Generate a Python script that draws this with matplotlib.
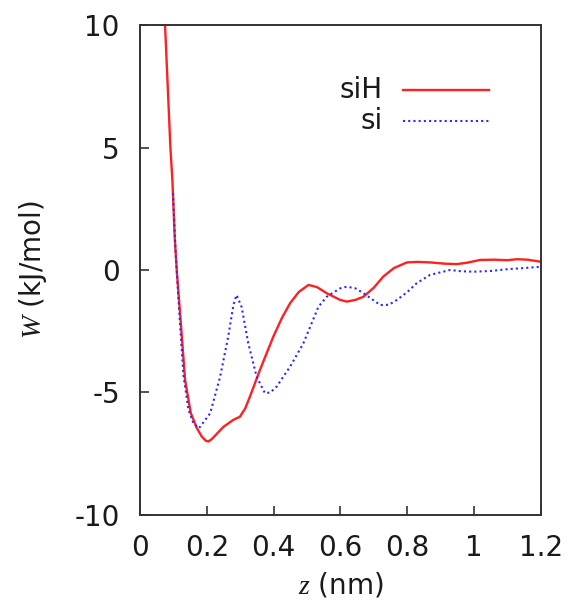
import matplotlib
matplotlib.use("Agg")
import matplotlib.pyplot as plt

plt.rcParams["font.family"] = ["DejaVu Sans"]
plt.rcParams["mathtext.fontset"] = "custom"
plt.rcParams["mathtext.it"] = "Liberation Serif:italic"
plt.rcParams["mathtext.rm"] = "Liberation Serif"

# Potential of mean force W(z)
z_siH = [0.075, 0.083, 0.091, 0.097, 0.104, 0.111, 0.12, 0.135, 0.152, 0.17, 0.185, 0.197, 0.205,
         0.215, 0.25, 0.279, 0.299, 0.315, 0.329, 0.359, 0.399, 0.425, 0.449, 0.475,
         0.504, 0.53, 0.559, 0.599, 0.619, 0.645, 0.669, 0.7, 0.728, 0.76,
         0.799, 0.83, 0.868, 0.91, 0.948, 0.98, 1.018, 1.06, 1.1, 1.128, 1.16, 1.198]
W_siH = [10.0, 7.5, 5.0, 3.67, 1.3, -0.2, -1.77, -4.49, -5.84, -6.45, -6.8, -6.97, -7.0,
         -6.9, -6.4, -6.12, -5.99, -5.65, -5.17, -4.08, -2.72, -1.95, -1.36, -0.9,
         -0.61, -0.7, -0.95, -1.22, -1.29, -1.22, -1.09, -0.72, -0.27, 0.08,
         0.31, 0.33, 0.31, 0.26, 0.24, 0.3, 0.41, 0.42, 0.4, 0.44, 0.42, 0.34]

z_si = [0.099, 0.106, 0.117, 0.13, 0.145, 0.16, 0.175, 0.18, 0.21, 0.24, 0.264, 0.28,
        0.289, 0.304, 0.324, 0.349, 0.374, 0.39, 0.409, 0.449, 0.489, 0.534,
        0.559, 0.599, 0.619, 0.645, 0.669, 0.695, 0.719, 0.745,
        0.769, 0.8, 0.828, 0.868, 0.928, 0.96, 0.998, 1.05, 1.098, 1.15, 1.198]
W_si = [3.14, 0.9, -1.6, -4.3, -5.7, -6.25, -6.46, -6.4, -5.85, -4.35, -2.72, -1.4,
        -1.02, -1.5, -2.99, -4.35, -5.03, -5.0, -4.76, -3.95, -2.99, -1.5,
        -1.09, -0.75, -0.68, -0.75, -0.95, -1.2, -1.43, -1.42,
        -1.22, -0.9, -0.54, -0.2, 0.0, -0.05, -0.07, -0.04, 0.03, 0.08, 0.13]

series_names = ["siH", "si"]
x_ticks = [0, 0.2, 0.4, 0.6, 0.8, 1.0, 1.2]
x_tick_labels = ["0", "0.2", "0.4", "0.6", "0.8", "1", "1.2"]
y_ticks = [-10, -5, 0, 5, 10]
y_tick_labels = ["-10", "-5", "0", "5", "10"]

fig = plt.figure(figsize=(5.73, 6.07), dpi=100)
ax = fig.add_axes([0.2443, 0.1516, 0.6998, 0.8072])

red = "#ff2020"
blue = "#2a2aff"
dotted = (0, (1, 1.5))
fs = 20
txt = "#1a1a1a"

ax.plot(z_siH, W_siH, color=red, lw=1.7, solid_capstyle="round",
        solid_joinstyle="round")
ax.plot(z_si, W_si, color=blue, lw=1.5, linestyle=dotted)

ax.set_xlim(0, 1.2)
ax.set_ylim(-10, 10)
ax.set_xticks(x_ticks)
ax.set_xticklabels(x_tick_labels)
ax.set_yticks(y_ticks)
ax.set_yticklabels(y_tick_labels)

edge = "#333333"
for s in ax.spines.values():
    s.set_color(edge)
    s.set_linewidth(1.4)
ax.tick_params(direction="in", length=6.5, width=1.2, color=edge,
               labelsize=fs, labelcolor=txt)
ax.tick_params(axis="y", pad=14.5)
ax.tick_params(axis="x", pad=14)

ax.set_xlabel("$z$ (nm)", fontsize=fs, color=txt)
ax.set_ylabel("$W$ (kJ/mol)", fontsize=fs, color=txt)
ax.xaxis.set_label_coords(0.5, -0.143)
ax.xaxis.label.set_va("center")
ax.yaxis.set_label_coords(-0.267, 0.5)
ax.yaxis.label.set_va("center")

# Key: label right-aligned, line sample to its right
key_styles = [dict(color=red, lw=1.7, linestyle="-"),
              dict(color=blue, lw=1.5, linestyle=dotted)]
key_y = [0.867, 0.804]
for name, style, ky in zip(series_names, key_styles, key_y):
    ax.text(0.606, ky, name, transform=ax.transAxes, ha="right", va="center",
            fontsize=fs, color=txt)
    ax.plot([0.656, 0.870], [ky, ky], transform=ax.transAxes, **style)

fig.savefig("out.png", dpi=100, facecolor="white")
